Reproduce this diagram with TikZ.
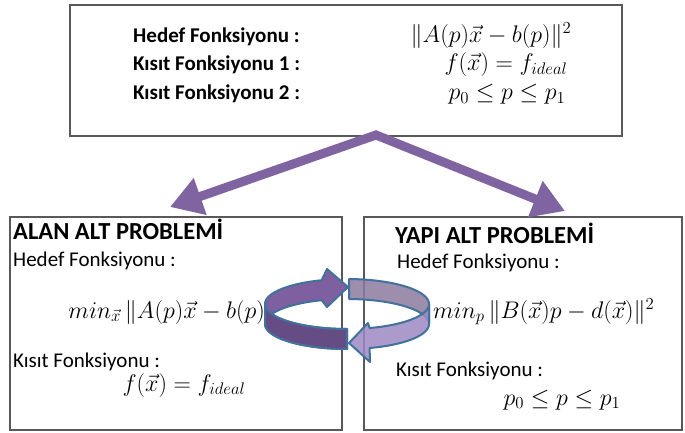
\RequirePackage{fix-cm}
\documentclass[tikz,border=0pt]{standalone}
\usepackage{amsmath}
\usepackage[no-math]{fontspec}
\setmainfont{Carlito}
\usetikzlibrary{arrows.meta}

\definecolor{framegray}{RGB}{89,89,89}
\definecolor{flowpurple}{RGB}{128,100,162}
\definecolor{ringtop}{RGB}{126,95,160}
\definecolor{ringfront}{RGB}{102,76,132}
\definecolor{ringback}{RGB}{140,122,160}
\definecolor{ringlight}{RGB}{159,136,196}
\definecolor{ringedge}{RGB}{65,113,156}

\begin{document}
\begin{tikzpicture}[
    x=1pt, y=-1pt,
    box/.style={rectangle, draw=framegray, line width=1.3pt, inner sep=0pt},
    goallabel/.style={anchor=base west, inner sep=0pt, font=\fontsize{21}{25}\selectfont\bfseries},
    boxtitle/.style={anchor=base west, inner sep=0pt, font=\fontsize{24.5}{29}\selectfont\bfseries},
    boxlabel/.style={anchor=base west, inner sep=0pt, font=\fontsize{21}{25}\selectfont},
    formula/.style={anchor=base, inner sep=0pt, font=\fontsize{24}{28}\selectfont},
    flow/.style={draw=flowpurple, line width=9pt, line join=miter,
                 arrows={Triangle[length=32pt, width=37pt]-Triangle[length=32pt, width=37pt]}},
    ringline/.style={draw=ringedge, line width=2pt, line join=round, samples=30}
]
\useasboundingbox (0,0) rectangle (685,433);

% boxes
\node[box, minimum width=552pt, minimum height=131pt] (goal) at (346,70.5) {};
\node[box, minimum width=332pt, minimum height=213pt] (alan) at (176,323.5) {};
\node[box, minimum width=318pt, minimum height=213pt] (yapi) at (523,323.5) {};

% main problem
\node[goallabel] (objlabel) at (133,42.7) {Hedef Fonksiyonu :};
\node[goallabel] (con1label) at (133,71) {Kısıt Fonksiyonu 1 :};
\node[goallabel] (con2label) at (133,100) {Kısıt Fonksiyonu 2 :};
\node[formula] (objeq) at (491,42.7) {$\|A(p)\vec{x}-b(p)\|^2$};
\node[formula] (con1eq) at (506,71) {$f(\vec{x})=f_{ideal}$};
\node[formula] (con2eq) at (507,100) {$p_0\le p\le p_1$};

% sub problems
\node[boxtitle] (alantitle) at (13,239) {ALAN ALT PROBLEMİ};
\node[boxlabel] (alanobj) at (13,266) {Hedef Fonksiyonu :};
\node[formula, anchor=base east] (alanobjeq) at (265,318) {$min_{\vec{x}}\,\|A(p)\vec{x}-b(p)\rlap{$\|^2$}$};
\node[boxlabel] (alancon) at (13,367) {Kısıt Fonksiyonu :};
\node[formula] (alanconeq) at (184,391) {$f(\vec{x})=f_{ideal}$};

\node[boxtitle] (yapititle) at (395,243) {YAPI ALT PROBLEMİ};
\node[boxlabel] (yapiobj) at (397,268) {Hedef Fonksiyonu :};
\node[formula, anchor=base west] (yapiobjeq) at (433,318) {$min_p\,\|B(\vec{x})p-d(\vec{x})\|^2$};
\node[boxlabel] (yapicon) at (396,376) {Kısıt Fonksiyonu :};
\node[formula] (yapiconeq) at (562,405) {$p_0\le p\le p_1$};

% split arrows
\coordinate (apex) at (376,135);
\coordinate (alantip) at (170,207);
\coordinate (yapitip) at (565,211);
\draw[flow] (alantip) -- (apex) -- (yapitip);

% cycle between the sub problems
\draw[ringline, fill=ringtop]
  plot[domain=252:180] ({347+82*cos(\x)},{304+25*sin(\x)})
  -- plot[domain=180:90] ({347+82*cos(\x)},{324+25*sin(\x)})
  -- plot[domain=90:156.4] ({347+82*cos(\x)},{304+25*sin(\x)})
  -- plot[domain=203.6:252] ({347+82*cos(\x)},{324+25*sin(\x)})
  -- (327,307) -- (348,287) -- (327,269) -- cycle;
\draw[ringline, fill=ringfront]
  plot[domain=90:180] ({347+82*cos(\x)},{304+25*sin(\x)})
  -- plot[domain=180:90] ({347+82*cos(\x)},{324+25*sin(\x)}) -- cycle;
\draw[ringline, fill=ringback, fill opacity=0.85]
  plot[domain=271.5:360] ({347+82*cos(\x)},{304+25*sin(\x)})
  -- plot[domain=360:271.5] ({347+82*cos(\x)},{324+25*sin(\x)}) -- cycle;
\draw[ringline, fill=ringlight, fill opacity=0.85]
  plot[domain=0:74] ({347+82*cos(\x)},{304+25*sin(\x)})
  -- (368,323) -- (349,343) -- (370,362)
  -- plot[domain=74:0] ({347+82*cos(\x)},{324+25*sin(\x)}) -- cycle;
\end{tikzpicture}
\end{document}
